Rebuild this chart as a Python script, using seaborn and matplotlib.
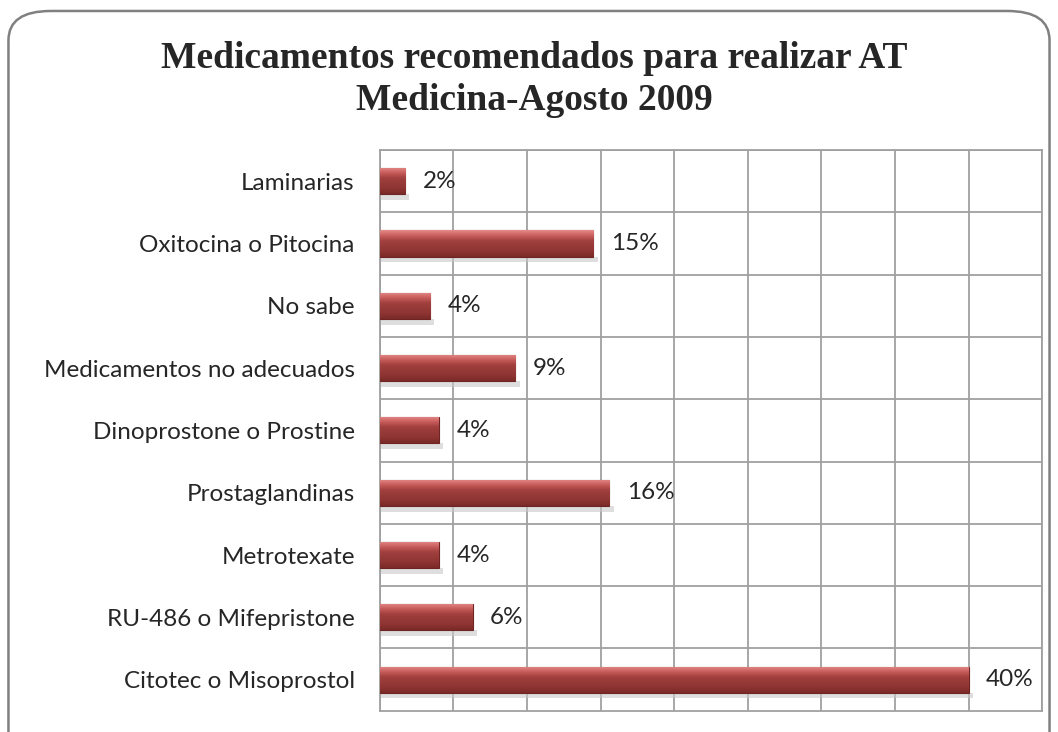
import numpy as np
import pandas as pd
import matplotlib
matplotlib.use('Agg')
import matplotlib.pyplot as plt
import seaborn as sns
from matplotlib.patches import FancyBboxPatch

# data (top to bottom)
categories = ['Laminarias', 'Oxitocina o Pitocina', 'No sabe', 'Medicamentos no adecuados',
              'Dinoprostone o Prostine', 'Prostaglandinas', 'Metrotexate',
              'RU-486 o Mifepristone', 'Citotec o Misoprostol']
values = [1.7, 14.5, 3.4, 9.2, 4.0, 15.6, 4.0, 6.3, 40.0]
labels = ['2%', '15%', '4%', '9%', '4%', '16%', '4%', '6%', '40%']

df = pd.DataFrame({'Medicamento': categories, 'Porcentaje': values})

sns.set_style('white')
plt.rcParams['font.family'] = ['Lato', 'DejaVu Sans']

fig = plt.figure(figsize=(10.58, 7.32), dpi=100)
ax = fig.add_axes([0.359, 0.029, 0.626, 0.766])

sns.barplot(data=df, y='Medicamento', x='Porcentaje', orient='h', ax=ax,
            color='#953735', width=0.42, edgecolor='#6e2422', linewidth=0.8,
            saturation=1, zorder=3)

# cylinder-like shading on each bar
grad = np.linspace(0, 1, 64).reshape(-1, 1)
cmap = matplotlib.colors.LinearSegmentedColormap.from_list(
    'bar', ['#e48a88', '#c85e5c', '#a2403e', '#963a38', '#8e3432', '#7a2a28'])
for p in ax.patches:
    x0, y0 = p.get_x(), p.get_y()
    w, h = p.get_width(), p.get_height()
    # soft shadow under the bar
    sh = plt.Rectangle((x0, y0 + h), w + 0.3, h * 0.22, color='#c8c8c8',
                       alpha=0.6, zorder=2, lw=0)
    ax.add_patch(sh)
    im = ax.imshow(grad, extent=(x0, x0 + w, y0 + h, y0), aspect='auto',
                   cmap=cmap, zorder=4)
    im.set_clip_path(p)

ax.set_xlim(0, 45)
ax.set_ylim(len(categories) - 0.5, -0.5)
ax.set_xticks(np.arange(0, 46, 5))
ax.set_xticklabels([])
ax.set_yticks(np.arange(len(categories)) - 0.5, minor=True)
ax.grid(True, axis='x', color='#a0a0a0', lw=1.3, zorder=0)
ax.grid(True, axis='y', which='minor', color='#a0a0a0', lw=1.3, zorder=0)
ax.grid(False, axis='y', which='major')
ax.tick_params(axis='both', which='both', length=0)
ax.tick_params(axis='y', pad=18, labelsize=17.5, labelcolor='#262626')
ax.set_xlabel('')
ax.set_ylabel('')
for s in ax.spines.values():
    s.set_visible(True)
    s.set_color('#a0a0a0')
    s.set_linewidth(1.3)

for i, (v, lab) in enumerate(zip(values, labels)):
    ax.text(v + 1.2, i, lab, va='center', ha='left', fontsize=17.5,
            color='#262626', zorder=5)

fig.text(0.505, 0.891, 'Medicamentos recomendados para realizar AT\nMedicina-Agosto 2009',
         ha='center', va='center', fontsize=27, fontweight='bold',
         family='Liberation Serif', linespacing=1.25)

frame = FancyBboxPatch((0.008, -0.05), 0.984, 1.035, transform=fig.transFigure,
                       boxstyle='round,pad=0,rounding_size=0.04',
                       fill=False, edgecolor='#808080', lw=1.8, zorder=0)
fig.patches.append(frame)

fig.savefig('out.png', dpi=100)
